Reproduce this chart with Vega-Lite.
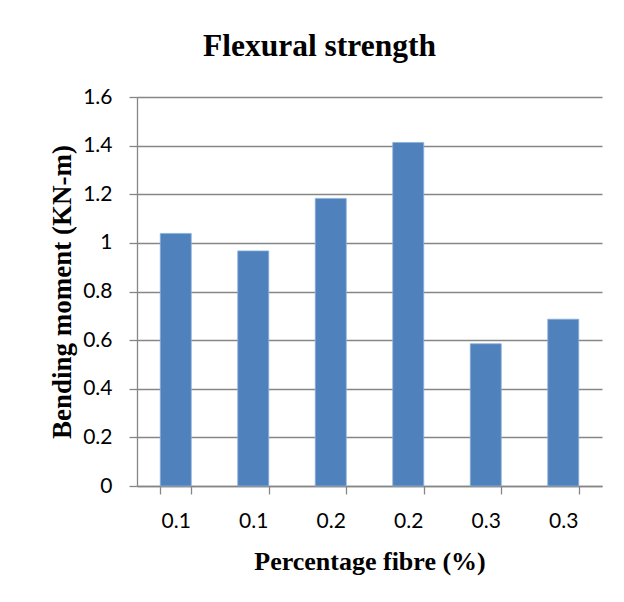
{
  "$schema": "https://vega.github.io/schema/vega-lite/v6.json",
  "autosize": "none",
  "width": 465,
  "height": 389,
  "padding": {"left": 137, "top": 97, "right": 22, "bottom": 116},
  "background": "white",
  "title": {
    "text": "Flexural strength",
    "font": "Liberation Serif",
    "fontWeight": "bold",
    "fontSize": 31.5,
    "color": "black",
    "anchor": "middle",
    "dx": -50,
    "offset": 24
  },
  "data": {
    "values": [
      {"sample": "0.1a", "moment": 1.039},
      {"sample": "0.1b", "moment": 0.967},
      {"sample": "0.2a", "moment": 1.183},
      {"sample": "0.2b", "moment": 1.413},
      {"sample": "0.3a", "moment": 0.585},
      {"sample": "0.3b", "moment": 0.686}
    ]
  },
  "mark": {"type": "bar", "color": "#4F81BD", "stroke": "#8CB0DA", "strokeWidth": 0.8},
  "encoding": {
    "x": {
      "field": "sample",
      "type": "nominal",
      "sort": null,
      "scale": {"paddingInner": 0.6, "paddingOuter": 0.3},
      "axis": {
        "title": "Percentage fibre (%)",
        "titleFont": "Liberation Serif",
        "titleFontWeight": "bold",
        "titleFontSize": 26,
        "titleColor": "black",
        "titlePadding": 17,
        "labelExpr": "substring(datum.label, 0, 3)",
        "labelAngle": 0,
        "labelFont": "Lato",
        "labelFontSize": 21,
        "labelColor": "black",
        "labelPadding": 16,
        "tickBand": "extent",
        "tickSize": 8,
        "tickColor": "#868686",
        "tickWidth": 1.3,
        "domainColor": "#868686",
        "domainWidth": 1.3,
        "grid": false
      }
    },
    "y": {
      "field": "moment",
      "type": "quantitative",
      "scale": {"domain": [0, 1.6]},
      "axis": {
        "title": "Bending moment (KN-m)",
        "titleFont": "Liberation Serif",
        "titleFontWeight": "bold",
        "titleFontSize": 27,
        "titleColor": "black",
        "titlePadding": 6,
        "values": [0, 0.2, 0.4, 0.6, 0.8, 1, 1.2, 1.4, 1.6],
        "format": "~g",
        "labelFont": "Lato",
        "labelFontSize": 21,
        "labelColor": "black",
        "labelPadding": 17,
        "tickSize": 8,
        "tickColor": "#868686",
        "tickWidth": 1.3,
        "domainColor": "#868686",
        "domainWidth": 1.3,
        "grid": true,
        "gridColor": "#868686",
        "gridWidth": 1.3
      }
    }
  },
  "config": {"view": {"stroke": null}}
}
